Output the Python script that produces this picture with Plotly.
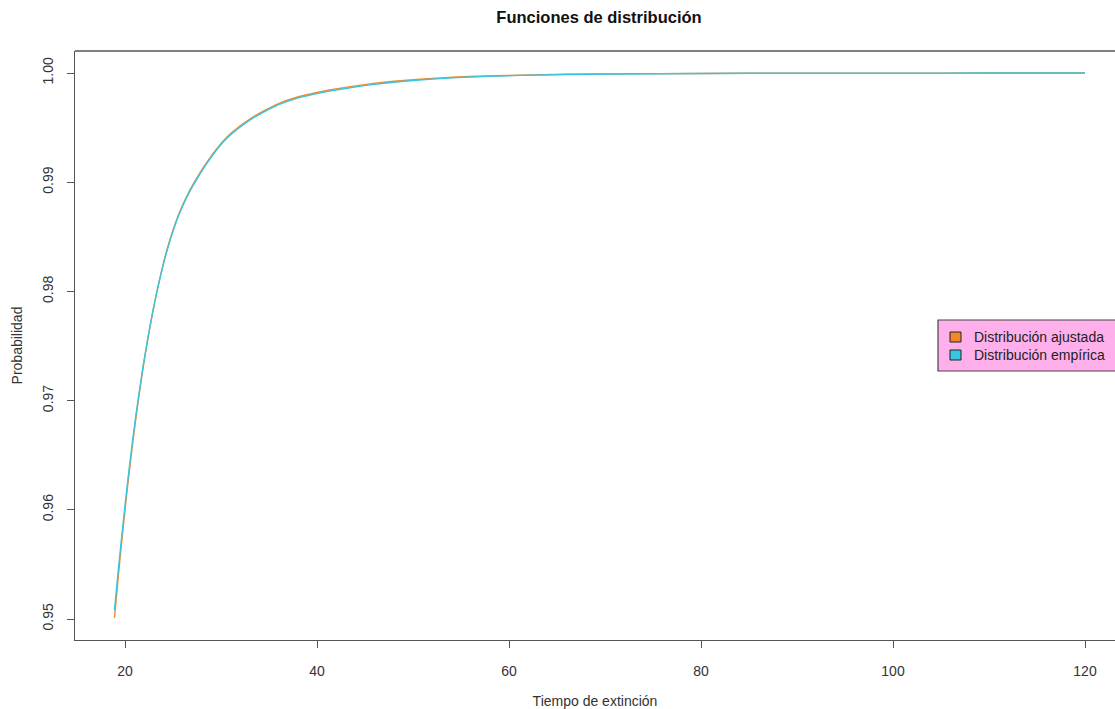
import plotly.graph_objects as go

# ---- data ----
tiempo = [18.9, 19.3, 19.6, 20.0, 20.3, 20.7, 21.1, 21.5, 21.9, 22.3, 22.8, 23.3, 23.8,
          24.3, 25.0, 25.7, 26.6, 27.5, 28.3, 29.2, 30.5, 32.0, 33.2, 34.4, 36.0, 37.9,
          39.5, 41.3, 43.3, 45.5, 48.0, 50.7, 53.3, 55.9, 61.1, 66.0, 71.6, 80, 90, 100,
          110, 120]
ajustada = [0.9501, 0.9539, 0.9566, 0.9600, 0.9624, 0.9654, 0.96816, 0.97072, 0.97308,
            0.97524, 0.97769, 0.97989, 0.98184, 0.98359, 0.98562, 0.98730, 0.98901,
            0.99041, 0.99153, 0.99266, 0.99403, 0.99516, 0.99590, 0.99650, 0.99720,
            0.99778, 0.99812, 0.99844, 0.99873, 0.99900, 0.99924, 0.99943, 0.99957,
            0.99968, 0.99981, 0.99988, 0.99992, 0.99996, 0.99998, 0.99999, 0.999997, 1.0]
empirica = [0.9508, 0.9545, 0.9571, 0.9604, 0.9628, 0.9657, 0.96846, 0.97092, 0.97323,
            0.97534, 0.97774, 0.97989, 0.98179, 0.98349, 0.98552, 0.98720, 0.98891,
            0.99031, 0.99143, 0.99256, 0.99393, 0.99506, 0.99580, 0.99640, 0.99710,
            0.99768, 0.99802, 0.99834, 0.99863, 0.99891, 0.99916, 0.99936, 0.99951,
            0.99963, 0.99978, 0.99986, 0.99991, 0.99996, 0.99998, 0.99999, 0.999997, 1.0]
x_ticks = [20, 40, 60, 80, 100, 120]
y_ticks = [0.95, 0.96, 0.97, 0.98, 0.99, 1.00]
y_tick_labels = ["0.95", "0.96", "0.97", "0.98", "0.99", "1.00"]
series_names = ["Distribución ajustada", "Distribución empírica"]

ORANGE = "#F3882A"
CYAN = "#36C5E2"
PINK = "#FFB0EA"
AXIS = "#555555"
TXT = "#333333"
FONT = "Liberation Sans, Arial, sans-serif"

W, H = 1115, 709
L, R, T, B = 75, 0, 51, 69

fig = go.Figure()
fig.add_trace(go.Scatter(x=tiempo, y=ajustada, mode="lines", name=series_names[0],
                         line=dict(color=ORANGE, width=1.4, shape="spline", smoothing=0.5),
                         showlegend=False))
fig.add_trace(go.Scatter(x=tiempo, y=empirica, mode="lines", name=series_names[1],
                         line=dict(color=CYAN, width=1.4, shape="spline", smoothing=0.5),
                         showlegend=False))

pw = W - L - R
ph = H - T - B
def px_x(p):
    return (p - L) / pw
def px_y(p):
    return 1 - (p - T) / ph

shapes = []
shapes.append(dict(type="line", xref="paper", yref="paper", x0=0, x1=1, y0=1, y1=1,
                   line=dict(color=AXIS, width=1.3)))
shapes.append(dict(type="rect", xref="paper", yref="paper",
                   x0=px_x(938), x1=px_x(1130), y0=px_y(371), y1=px_y(320),
                   fillcolor=PINK, line=dict(color="#444444", width=1.2), layer="above"))
annotations = []
for i, (name, col) in enumerate(zip(series_names, [ORANGE, CYAN])):
    cy = 337 + 18 * i
    shapes.append(dict(type="rect", xref="paper", yref="paper",
                       x0=px_x(950), x1=px_x(961), y0=px_y(cy + 5), y1=px_y(cy - 5),
                       fillcolor=col, line=dict(color="#222222", width=1), layer="above"))
    annotations.append(dict(text=name, xref="paper", yref="paper", x=px_x(972), y=px_y(cy),
                            xanchor="left", yanchor="middle", showarrow=False,
                            font=dict(family=FONT, size=14, color="#222222")))

fig.update_layout(
    width=W, height=H,
    margin=dict(l=L, r=R, t=T, b=B, pad=0),
    paper_bgcolor="white", plot_bgcolor="white",
    font=dict(family=FONT, color=TXT, size=14),
    title=dict(text="<b>Funciones de distribución</b>", x=599 / W, xanchor="center",
               y=1 - 17 / H, yanchor="middle",
               font=dict(family=FONT, size=16.5, color="#111111")),
    shapes=shapes, annotations=annotations,
    showlegend=False,
)
fig.update_xaxes(range=[14.79, 123.125], tickvals=x_ticks, ticks="outside", ticklen=7,
                 tickcolor=AXIS, tickwidth=1.2, showline=True, linecolor=AXIS, linewidth=1.3,
                 showgrid=False, zeroline=False, tickfont=dict(size=14, color=TXT),
                 ticklabelstandoff=11,
                 title=dict(text="Tiempo de extinción", standoff=18,
                            font=dict(size=14, color=TXT)))
fig.update_yaxes(range=[0.948077, 1.002015], tickvals=y_ticks, ticktext=y_tick_labels,
                 ticks="outside", ticklen=7, tickcolor=AXIS, tickwidth=1.2,
                 showline=True, linecolor=AXIS, linewidth=1.3, showgrid=False, zeroline=False,
                 tickangle=-90, tickfont=dict(size=14, color=TXT), ticklabelstandoff=8,
                 title=dict(text="Probabilidad", standoff=14,
                            font=dict(size=14, color=TXT)))

fig.write_html("out.html", config={"displayModeBar": False},
               post_script="document.body.style.margin='0px';document.body.style.overflow='hidden';")
